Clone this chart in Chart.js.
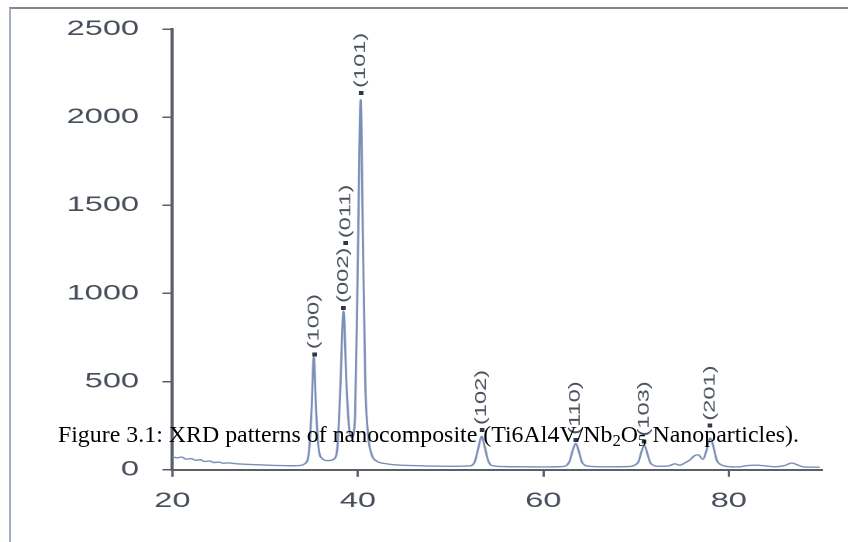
<!DOCTYPE html>
<html>
<head>
<meta charset="utf-8">
<title>XRD pattern</title>
<script src="https://cdn.jsdelivr.net/npm/chart.js@4.4.0/dist/chart.umd.min.js"></script>
<style>
  html, body { margin: 0; padding: 0; background: #fff; }
  body { width: 848px; height: 542px; position: relative; overflow: hidden; }
  #frame { position: absolute; left: 9px; top: 7px; right: -4px; bottom: -4px;
           border-top: 2px solid #80858e; border-left: 2px solid #a3afc4; }
  /* the source picture is stretched sideways, so the plot is too */
  #plot { position: absolute; left: 0; top: 0; width: 547px; height: 542px;
          transform: scaleX(1.55); transform-origin: 0 0; }
  #caption { position: absolute; left: 0; top: 423px; width: 857px; text-align: center;
             font: 23.9px/1 "Liberation Serif", "Times New Roman", serif; color: #000;
             white-space: nowrap; }
  #caption sub { font-size: 70%; vertical-align: -0.25em; line-height: 0; }
</style>
</head>
<body>
<div id="frame"></div>
<div id="plot"><canvas id="xrd"></canvas></div>
<div id="caption">Figure 3.1: XRD patterns of nanocomposite (Ti6Al4V/Nb<sub>2</sub>O<sub>5</sub> Nanoparticles).</div>
<script>
const STRETCH = 1.55;

// ---------- Data ----------
const twoTheta = [
  20.0, 20.5, 21.0, 21.5, 22.0, 22.5, 23.0, 23.5, 24.0, 24.5, 25.0, 25.5, 26.0, 27.0, 28.0,
  29.0, 30.0, 31.0, 32.0, 33.0, 33.8, 34.3, 34.7, 35.0, 35.25, 35.5, 35.8, 36.2, 36.8, 37.4,
  37.8, 38.1, 38.45, 38.8, 39.1, 39.35, 39.7, 40.0, 40.3, 40.55, 40.8, 41.1, 41.5, 42.0, 43.0,
  44.0, 46.0, 48.0, 50.0, 52.0, 52.6, 53.0, 53.35, 53.7, 54.1, 54.7, 56.0, 58.0, 60.0, 62.0,
  62.8, 63.2, 63.5, 63.8, 64.2, 65.0, 67.0, 69.0, 70.2, 70.6, 70.9, 71.2, 71.6, 72.5, 73.5,
  74.2, 74.7, 75.3, 75.8, 76.3, 76.7, 77.2, 77.6, 78.0, 78.3, 78.7, 79.2, 80.0, 81.0, 82.0,
  83.0, 84.0, 85.0, 86.0, 86.8, 87.5, 88.0, 89.0, 89.8
];
const intensity = [
  75, 68, 72, 60, 64, 54, 57, 47, 50, 41, 44, 37, 39, 34, 31,
  29, 27, 25, 24, 23, 25, 35, 90, 330, 640, 330, 110, 62, 52, 60,
  130, 450, 900, 450, 220, 185, 300, 1200, 2100, 1300, 500, 200, 85, 50, 35,
  28, 24, 21, 20, 22, 45, 125, 190, 125, 45, 22, 18, 17, 16, 18,
  45, 115, 150, 110, 40, 20, 17, 18, 40, 105, 140, 95, 35, 20, 22,
  34, 26, 40, 55, 80, 85, 60, 110, 180, 140, 55, 28, 18, 16, 24,
  26, 22, 17, 24, 38, 26, 17, 15, 15
];

const peakLabels = ['(100)', '(002)', '(011)', '(101)', '(102)', '(110)', '(103)', '(201)'];
const peakTheta  = [35.3, 38.45, 38.7, 40.35, 53.4, 63.5, 70.9, 78.0];
const peakMark   = [655, 918, 1285, 2137, 225, 170, 160, 250];

const xTicks = [20, 40, 60, 80];
const yTicks = [0, 500, 1000, 1500, 2000, 2500];

// ---------- Styles ----------
const AXIS  = '#5a5f68';
const LABEL = '#474e5b';
const TRACE = '#7b90b6';
const tickFont = { family: '"Liberation Sans", Arial, sans-serif', size: 21 };

// small dark square used as the peak marker
const dot = document.createElement('canvas');
dot.width = 3; dot.height = 4;
(c => { c.fillStyle = '#2f3645'; c.fillRect(0, 0, 3, 4); })(dot.getContext('2d'));

// rotated hkl labels above each marker
const peakLabelPlugin = {
  id: 'peakLabels',
  afterDatasetsDraw (chart) {
    const ctx = chart.ctx;
    const meta = chart.getDatasetMeta(1);
    ctx.save();
    ctx.fillStyle = '#4a515d';
    ctx.font = '15px "Liberation Sans", Arial, sans-serif';
    ctx.textAlign = 'left';
    ctx.textBaseline = 'middle';
    meta.data.forEach((pt, i) => {
      ctx.save();
      ctx.translate(pt.x, pt.y - 5);
      ctx.scale(1 / STRETCH, 1);
      ctx.rotate(-Math.PI / 2);
      ctx.scale(1.58, 1);
      ctx.fillText(peakLabels[i], 0, 0);
      ctx.restore();
    });
    ctx.restore();
  }
};

new Chart(document.getElementById('xrd'), {
  type: 'scatter',
  data: {
    datasets: [
      {
        label: 'XRD',
        data: twoTheta.map((t, i) => ({ x: t, y: intensity[i] })),
        showLine: true,
        borderColor: TRACE,
        borderWidth: 1.4,
        pointRadius: 0,
        cubicInterpolationMode: 'monotone'
      },
      {
        label: 'peaks',
        data: peakTheta.map((t, i) => ({ x: t, y: peakMark[i] })),
        showLine: false,
        pointStyle: dot,
        pointRadius: 2
      }
    ]
  },
  options: {
    responsive: true,
    maintainAspectRatio: false,
    animation: false,
    devicePixelRatio: 2,
    events: [],
    layout: { padding: { left: 28, right: 17, top: 29, bottom: 16 } },
    plugins: { legend: { display: false }, tooltip: { enabled: false } },
    scales: {
      x: {
        type: 'linear', min: 20, max: 90,
        afterBuildTicks: s => { s.ticks = xTicks.map(v => ({ value: v })); },
        grid: { drawOnChartArea: false, drawTicks: true, tickLength: 7, color: AXIS, lineWidth: 1.5 },
        border: { display: true, color: AXIS, width: 2 },
        ticks: { padding: 12, color: LABEL, font: tickFont, autoSkip: false, maxRotation: 0,
                 callback: v => String(v) }
      },
      y: {
        min: 0, max: 2500,
        afterBuildTicks: s => { s.ticks = yTicks.map(v => ({ value: v })); },
        grid: { drawOnChartArea: false, drawTicks: true, tickLength: 6.5, color: AXIS, lineWidth: 1.5 },
        border: { display: true, color: AXIS, width: 2 },
        ticks: { padding: 15, color: LABEL, font: tickFont, autoSkip: false,
                 callback: v => String(v) }
      }
    }
  },
  plugins: [peakLabelPlugin]
});
</script>
</body>
</html>
